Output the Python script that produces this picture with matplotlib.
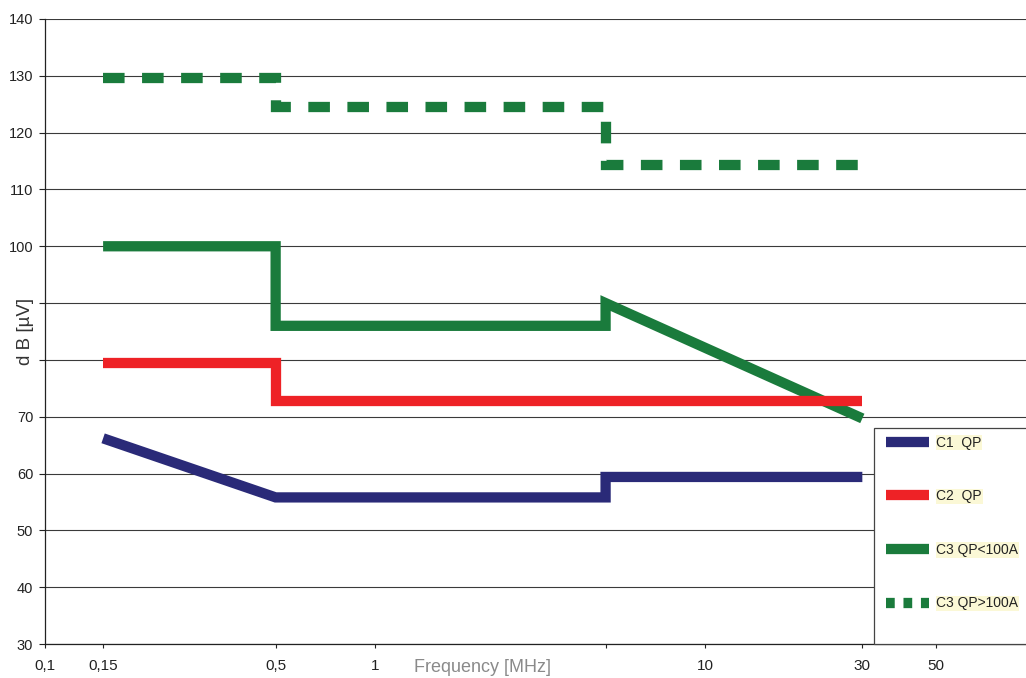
import matplotlib
matplotlib.use("Agg")
import matplotlib.pyplot as plt
from matplotlib.lines import Line2D
from matplotlib.patches import Rectangle
from matplotlib.ticker import FixedLocator, FixedFormatter, NullLocator

plt.rcParams["font.family"] = ["Liberation Sans", "DejaVu Sans"]

# limit lines, values (frequency in MHz, level in dB µV)
c1_f = [0.15, 0.5, 5, 5, 30]
c1_db = [66.2, 55.8, 55.8, 59.4, 59.4]
c2_f = [0.15, 0.5, 0.5, 30]
c2_db = [79.4, 79.4, 72.8, 72.8]
c3_f = [0.15, 0.5, 0.5, 5, 5, 30]
c3_db = [100, 100, 86, 86, 90, 69.7]
c3hi_f = [0.15, 0.5, 0.5, 5, 5, 30]
c3hi_db = [129.6, 129.6, 124.5, 124.5, 114.3, 114.3]

labels = ["C1  QP", "C2  QP", "C3 QP<100A", "C3 QP>100A"]
x_ticks = [0.1, 0.15, 0.5, 1, 5, 10, 30, 50]
x_ticklabels = ["0,1", "0,15", "0,5", "1", "", "10", "30", "50"]
y_ticks = list(range(30, 141, 10))
# 90 and 80 are hidden behind the axis title in the original
y_ticklabels = ["" if v in (80, 90) else str(v) for v in y_ticks]

NAVY, RED, GREEN = "#2a2a78", "#ee2226", "#1a7b3c"
LW = 7.4

fig = plt.figure(figsize=(10.26, 6.78), dpi=100, facecolor="white")
ax = fig.add_axes([45 / 1026, 34 / 678, 981 / 1026, 625 / 678])

line_kw = dict(solid_capstyle="butt", solid_joinstyle="miter",
               dash_capstyle="butt", dash_joinstyle="miter")
ax.plot(c3hi_f, c3hi_db, color=GREEN, lw=LW, dashes=(2.1, 1.7), zorder=3, **line_kw)
ax.plot(c3_f, c3_db, color=GREEN, lw=LW, zorder=3, **line_kw)
ax.plot(c2_f, c2_db, color=RED, lw=LW, zorder=4, **line_kw)
ax.plot(c1_f, c1_db, color=NAVY, lw=LW, zorder=4, **line_kw)

ax.set_xscale("log")
ax.set_xlim(0.1, 94)
ax.set_ylim(30, 140)
ax.xaxis.set_major_locator(FixedLocator(x_ticks))
ax.xaxis.set_major_formatter(FixedFormatter(x_ticklabels))
ax.xaxis.set_minor_locator(NullLocator())
ax.set_yticks(y_ticks)
ax.set_yticklabels(y_ticklabels)

ax.grid(axis="y", color="#3a3a3a", lw=0.8, zorder=1)
ax.set_axisbelow(True)
for s in ("top", "right"):
    ax.spines[s].set_visible(False)
for s in ("left", "bottom"):
    ax.spines[s].set_color("#222222")
    ax.spines[s].set_linewidth(0.9)
ax.tick_params(axis="y", length=4.5, width=0.8, pad=4, labelsize=10.5, colors="#222222")
ax.tick_params(axis="x", length=3, width=0.8, pad=8, labelsize=11, colors="#222222")

fig.text(483 / 1026, 1 - 667 / 678, "Frequency [MHz]", fontsize=13, color="#8a8a8a",
         ha="center", va="center")
fig.text(26 / 1026, 1 - 331 / 678, "d B [µV]", fontsize=13.5, color="#333333",
         rotation=90, ha="center", va="center")

# legend box runs off the right edge, as in the original
fig.patches.append(Rectangle((874 / 1026, 34 / 678), 170 / 1026, 216 / 678,
                             transform=fig.transFigure, facecolor="white",
                             edgecolor="#444444", lw=0.9, zorder=5))
handles = [
    Line2D([], [], color=NAVY, lw=LW, solid_capstyle="butt"),
    Line2D([], [], color=RED, lw=LW, solid_capstyle="butt"),
    Line2D([], [], color=GREEN, lw=LW, solid_capstyle="butt"),
    Line2D([], [], color=GREEN, lw=LW, dashes=(0.85, 0.85), dash_capstyle="butt"),
]
leg = fig.legend(handles, labels, loc="upper left", bbox_to_anchor=(876 / 1026, 1 - 426 / 678),
                 frameon=False, fontsize=10, handlelength=3.15, handletextpad=0.5,
                 labelspacing=2.85, borderpad=0.2)
leg.set_zorder(6)
for t in leg.get_texts():
    t.set_color("#222222")
    t.set_bbox(dict(facecolor="#fbf8d6", edgecolor="none", pad=0.5))

fig.savefig("out.png", dpi=100, facecolor="white")
